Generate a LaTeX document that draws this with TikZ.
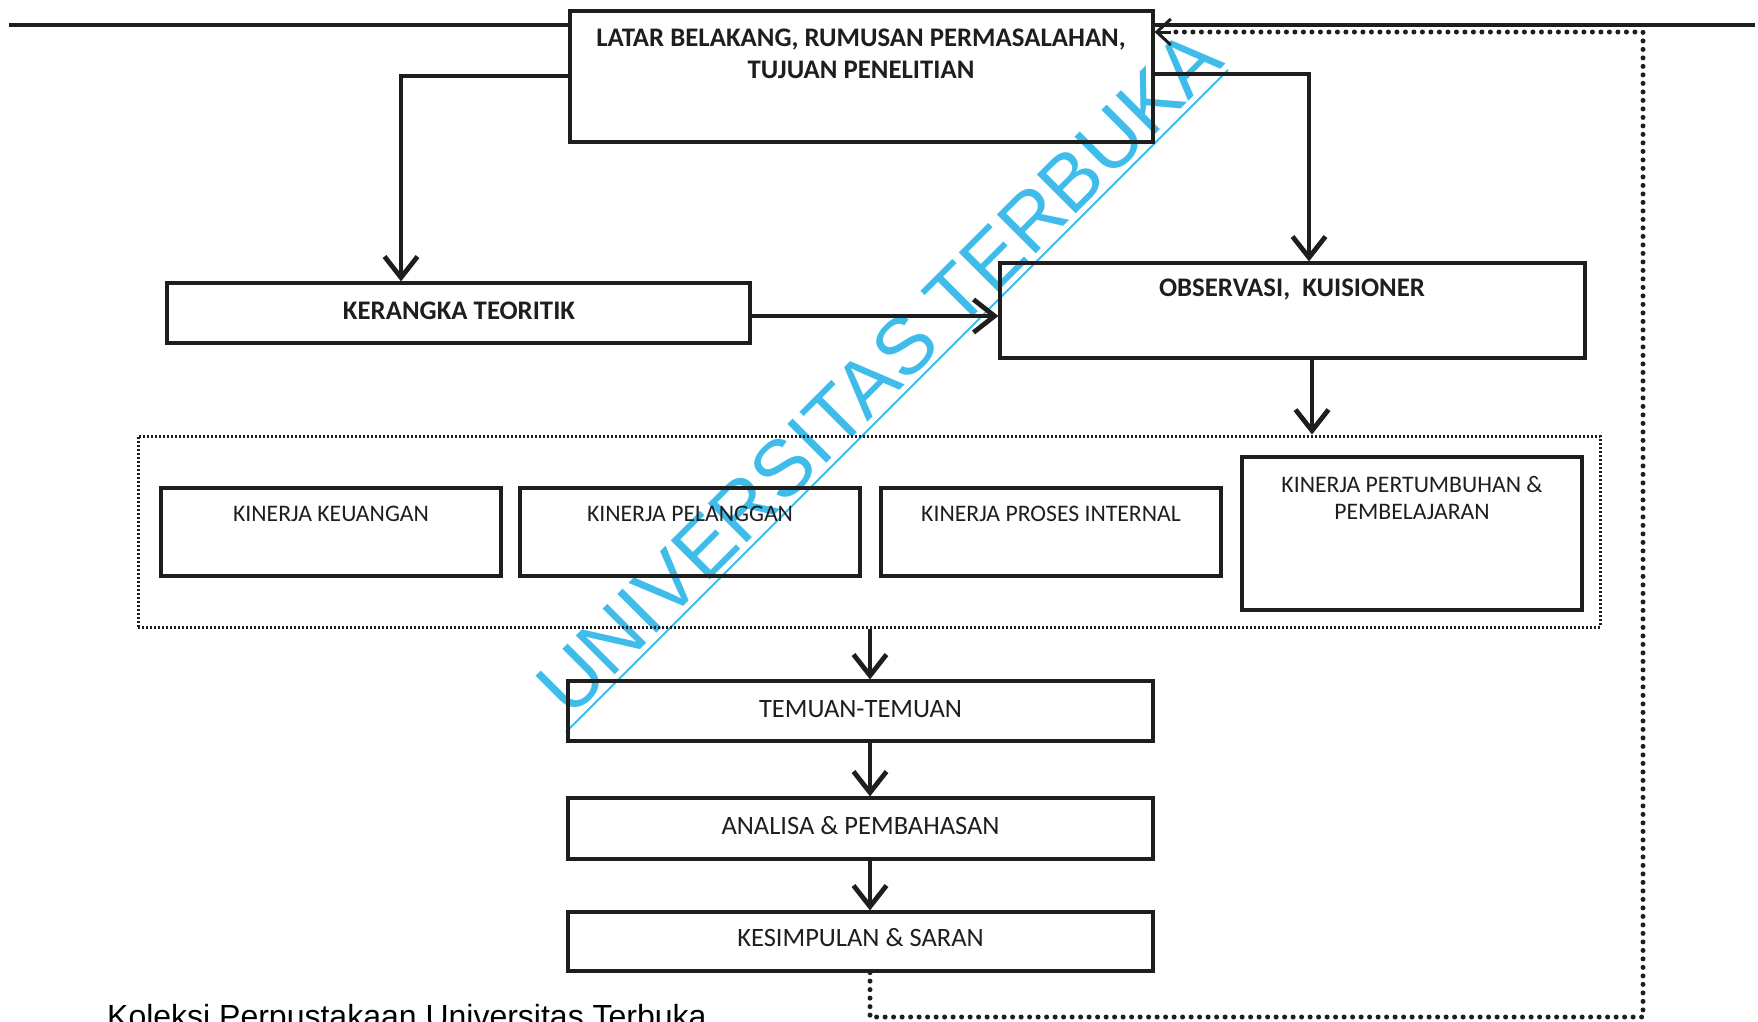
\documentclass[tikz,border=0pt]{standalone}
\usepackage{fontspec}
\setmainfont{Carlito}
\newfontfamily\wmfont{Liberation Sans}
\usetikzlibrary{arrows.meta}
\definecolor{wmblue}{RGB}{64,188,235}
\definecolor{ink}{RGB}{30,30,30}
\begin{document}
\begin{tikzpicture}[x=1pt,y=-1pt,
  box/.style={draw=ink, line width=3.2pt, inner sep=0pt},
  txt/.style={inner sep=0pt, text=ink, align=center},
  bold/.style={font=\bfseries\fontsize{26.8}{32}\selectfont},
  big/.style={font=\fontsize{26.5}{30}\selectfont},
  small/.style={font=\fontsize{23.7}{27}\selectfont},
  arr/.style={draw=ink, line width=4.8pt, -{Straight Barb[length=21pt,width=33pt,line width=4.8pt]}},
  fbline/.style={draw=ink, line width=5pt, line cap=round, dash pattern=on 0pt off 8.5pt},
  grp/.style={draw=ink, line width=3pt, dash pattern=on 2pt off 2pt},
]
\useasboundingbox (0,0) rectangle (1758,1021);

% watermark (behind everything)
\node[anchor=base, rotate=45, text=wmblue, inner sep=0pt,
      font=\wmfont\fontsize{80}{90}\selectfont] (wm) at (898,392) {UNIVERSITAS TERBUKA};
\coordinate (wmA) at (566,732);
\coordinate (wmB) at (1228,70);
\draw[wmblue, line width=2pt] (wmA) -- (wmB);

% boxes
\node[box, minimum width=583pt, minimum height=131pt] (latar) at (861.5,76.5) {};
\node[box, minimum width=583pt, minimum height=60pt] (keran) at (458.5,313) {};
\node[box, minimum width=585pt, minimum height=95pt] (obs) at (1292.5,310.5) {};
\node[grp, inner sep=0pt, minimum width=1462pt, minimum height=191pt] (group) at (869,531.5) {};
\node[box, minimum width=340pt, minimum height=88pt] (keu) at (331,532) {};
\node[box, minimum width=340pt, minimum height=88pt] (pel) at (690,532) {};
\node[box, minimum width=340pt, minimum height=88pt] (pro) at (1051,532) {};
\node[box, minimum width=340pt, minimum height=153pt] (per) at (1412,533.5) {};
\node[box, minimum width=585pt, minimum height=60pt] (tem) at (860.5,711) {};
\node[box, minimum width=585pt, minimum height=61pt] (ana) at (860.5,828.5) {};
\node[box, minimum width=585pt, minimum height=59pt] (kes) at (860.5,941.5) {};

% texts
\node[txt, font=\bfseries\fontsize{26.8}{32}\selectfont] (latar-t) at (861,54) {LATAR BELAKANG, RUMUSAN PERMASALAHAN,\\TUJUAN PENELITIAN};
\node[txt, bold] (keran-t) at (459,311) {KERANGKA TEORITIK};
\node[txt, bold] (obs-t) at (1292,290) {OBSERVASI,\ \ KUISIONER};
\node[txt, small] (keu-t) at (331,513.5) {KINERJA KEUANGAN};
\node[txt, small] (pel-t) at (690,513.5) {KINERJA PELANGGAN};
\node[txt, small] (pro-t) at (1051,513.5) {KINERJA PROSES INTERNAL};
\node[txt, small] (per-t) at (1412,497.5) {KINERJA PERTUMBUHAN \&\\PEMBELAJARAN};
\node[txt, big] (tem-t) at (860.5,708.6) {TEMUAN-TEMUAN};
\node[txt, big] (ana-t) at (860.5,826) {ANALISA \& PEMBAHASAN};
\node[txt, big] (kes-t) at (860.5,938) {KESIMPULAN \& SARAN};

% top rule
\coordinate (tl) at (9,25);
\coordinate (tr) at (1755,25);
\draw[ink, line width=3.5pt] (tl) -- (latar.west |- tl);
\draw[ink, line width=3.5pt] (latar.east |- tr) -- (tr);

% connectors
\coordinate (lk) at (401,76);
\draw[arr] (latar.west |- lk) -- (lk) -- (keran.north -| lk);
\coordinate (ro) at (1309,74);
\draw[arr] (latar.east |- ro) -- (ro) -- (obs.north -| ro);
\coordinate (ko) at (0,316);
\draw[arr] (keran.east |- ko) -- (obs.west |- ko);
\coordinate (og) at (1312,0);
\draw[arr] (obs.south -| og) -- (group.north -| og);
\coordinate (axis) at (870,0);
\draw[arr] (group.south -| axis) -- (tem.north -| axis);
\draw[arr] (tem.south -| axis) -- (ana.north -| axis);
\draw[arr] (ana.south -| axis) -- (kes.north -| axis);

% feedback loop
\coordinate (fb1) at (870,1017);
\coordinate (fb2) at (1643,1017);
\coordinate (fb3) at (1643,32);
\draw[fbline] (kes.south -| axis) -- (fb1) -- (fb2) -- (fb3) -- ([xshift=14pt]latar.east |- fb3);
\draw[ink, line width=3pt, -{Straight Barb[length=14pt,width=26pt,line width=3pt]}] ([xshift=16pt]latar.east |- fb3) -- (latar.east |- fb3);

% footer
\node[anchor=base west, inner sep=0pt, text=black, font=\wmfont\fontsize{32}{36}\selectfont] (foot) at (107,1027) {Koleksi Perpustakaan Universitas Terbuka};
\end{tikzpicture}
\end{document}
